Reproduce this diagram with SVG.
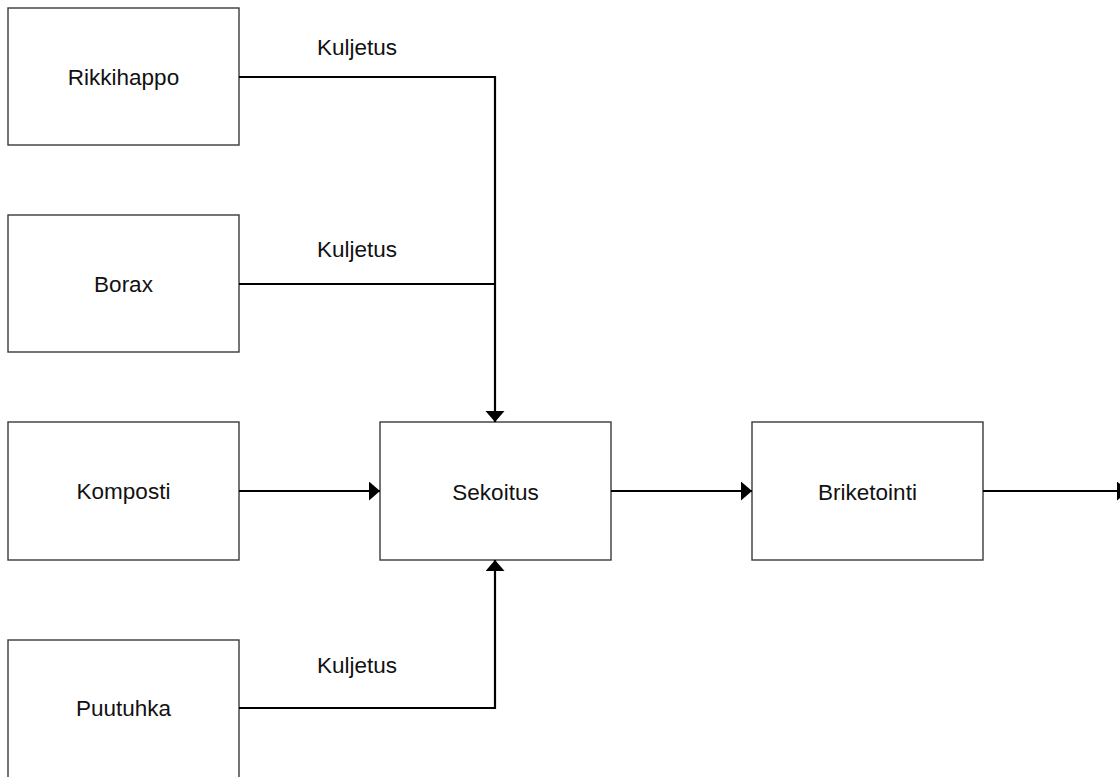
<svg xmlns="http://www.w3.org/2000/svg" width="1120" height="777" viewBox="0 0 1120 777">
<style>
.box{fill:#fff;stroke:#3a3a3a;stroke-width:1.4}
.t{font-family:"Liberation Sans",Arial,sans-serif;font-size:22.5px;fill:#111;text-anchor:middle}
.c{fill:none;stroke:#000;stroke-width:2.2}
</style>
<defs>
<marker id="ah" markerUnits="userSpaceOnUse" markerWidth="12" markerHeight="20" refX="11" refY="9.5" orient="auto">
<polygon points="0,0 11,9.5 0,19" fill="#000"/>
</marker>
</defs>
<rect width="1120" height="777" fill="#fff"/>
<g id="rikkihappo"><rect class="box" x="8" y="8" width="231" height="137"/><text class="t" x="123.5" y="85">Rikkihappo</text></g>
<g id="borax"><rect class="box" x="8" y="215" width="231" height="137"/><text class="t" x="123.5" y="292">Borax</text></g>
<g id="komposti"><rect class="box" x="8" y="422" width="231" height="138"/><text class="t" x="123.5" y="499">Komposti</text></g>
<g id="puutuhka"><rect class="box" x="8" y="640" width="231" height="160"/><text class="t" x="123.5" y="716">Puutuhka</text></g>
<g id="sekoitus"><rect class="box" x="380" y="422" width="231" height="138"/><text class="t" x="495.5" y="500">Sekoitus</text></g>
<g id="briketointi"><rect class="box" x="752" y="422" width="231" height="138"/><text class="t" x="867.5" y="500">Briketointi</text></g>
<g id="connectors">
<polyline class="c" points="239,77 495,77 495,422" marker-end="url(#ah)"/>
<polyline class="c" points="239,284 495,284"/>
<polyline class="c" points="239,491 380,491" marker-end="url(#ah)"/>
<polyline class="c" points="239,708 495,708 495,560" marker-end="url(#ah)"/>
<polyline class="c" points="611,491 752,491" marker-end="url(#ah)"/>
<polyline class="c" points="983,491 1128,491" marker-end="url(#ah)"/>
<text class="t" x="357" y="55">Kuljetus</text>
<text class="t" x="357" y="257">Kuljetus</text>
<text class="t" x="357" y="673">Kuljetus</text>
</g>
</svg>
